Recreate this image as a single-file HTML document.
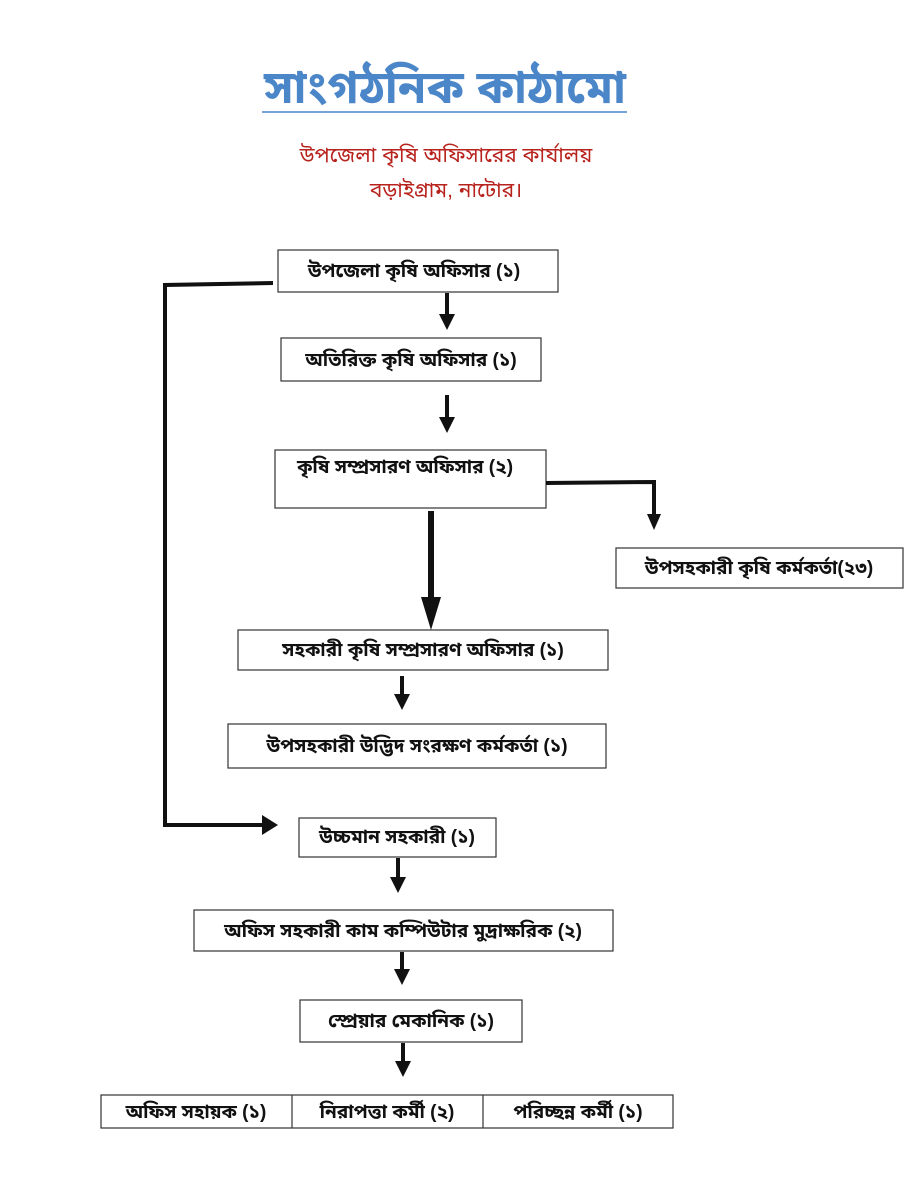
<!DOCTYPE html>
<html><head><meta charset="utf-8"><style>
html,body{margin:0;padding:0;background:#fff;}
svg{display:block;}
text{font-family:"Liberation Sans","Noto Sans Bengali","Lohit Bengali",sans-serif;}
</style></head><body>
<svg width="917" height="1203" viewBox="0 0 917 1203" xmlns="http://www.w3.org/2000/svg">
<defs>
<marker id="ah" markerWidth="4" markerHeight="4" refX="2" refY="2" orient="auto" markerUnits="strokeWidth">
<path d="M0,0 L4,2 L0,4 z" fill="#111"/></marker>
</defs>
<rect width="917" height="1203" fill="#fff"/>
<text x="445" y="103" text-anchor="middle" font-size="46" font-weight="bold" fill="#4a86c8">সাংগঠনিক কাঠামো</text>
<line x1="262" y1="112" x2="627" y2="112" stroke="#4a86c8" stroke-width="1.5"/>
<text x="446" y="162" text-anchor="middle" font-size="21" fill="#b8221c">উপজেলা কৃষি অফিসারের কার্যালয়</text>
<text x="446" y="197" text-anchor="middle" font-size="21" fill="#b8221c">বড়াইগ্রাম, নাটোর।</text>
<g fill="#fff" stroke="#333" stroke-width="1.2">
<rect x="278" y="250" width="280" height="42"/>
<rect x="281" y="338" width="260" height="43"/>
<rect x="275" y="450" width="271" height="58"/>
<rect x="616" y="548" width="287" height="40"/>
<rect x="238" y="630" width="370" height="40"/>
<rect x="228" y="724" width="378" height="44"/>
<rect x="299" y="818" width="197" height="39"/>
<rect x="194" y="910" width="419" height="41"/>
<rect x="300" y="1000" width="222" height="42"/>
<rect x="101" y="1095" width="572" height="33"/>
<line x1="292" y1="1095" x2="292" y2="1128"/>
<line x1="483" y1="1095" x2="483" y2="1128"/>
</g>
<g font-size="19" font-weight="bold" fill="#111" text-anchor="middle">
<text x="414" y="277">উপজেলা কৃষি অফিসার (১)</text>
<text x="411" y="366">অতিরিক্ত কৃষি অফিসার (১)</text>
<text x="405" y="473">কৃষি সম্প্রসারণ অফিসার (২)</text>
<text x="759" y="574">উপসহকারী কৃষি কর্মকর্তা(২৩)</text>
<text x="423" y="656">সহকারী কৃষি সম্প্রসারণ অফিসার (১)</text>
<text x="417" y="752">উপসহকারী উদ্ভিদ সংরক্ষণ কর্মকর্তা (১)</text>
<text x="397" y="843">উচ্চমান সহকারী (১)</text>
<text x="403" y="937">অফিস সহকারী কাম কম্পিউটার মুদ্রাক্ষরিক (২)</text>
<text x="411" y="1027">স্প্রেয়ার মেকানিক (১)</text>
<text x="196" y="1118">অফিস সহায়ক (১)</text>
<text x="387" y="1118">নিরাপত্তা কর্মী (২)</text>
<text x="578" y="1118">পরিচ্ছন্ন কর্মী (১)</text>
</g>
<g stroke="#111" stroke-width="4" fill="none">
<polyline points="273,283 165,285 165,825 262,825"/>
<polyline points="546,483 654,482 654,516"/>
</g>
<g fill="#111">
<polygon points="262,815 278,825 262,835"/>
<polygon points="647,514 661,514 654,530"/>
</g>
<g stroke="#111" stroke-width="4" marker-end="url(#ah)">
<line x1="447" y1="293" x2="447" y2="322"/>
<line x1="447" y1="395" x2="447" y2="425"/>
<line x1="402" y1="676" x2="402" y2="702"/>
<line x1="398" y1="858" x2="398" y2="885"/>
<line x1="402" y1="952" x2="402" y2="977"/>
<line x1="403" y1="1043" x2="403" y2="1069"/>
</g>
<line x1="431" y1="511" x2="431" y2="600" stroke="#111" stroke-width="6"/>
<polygon points="421,597 441,597 431,630" fill="#111"/>
</svg>
</body></html>
